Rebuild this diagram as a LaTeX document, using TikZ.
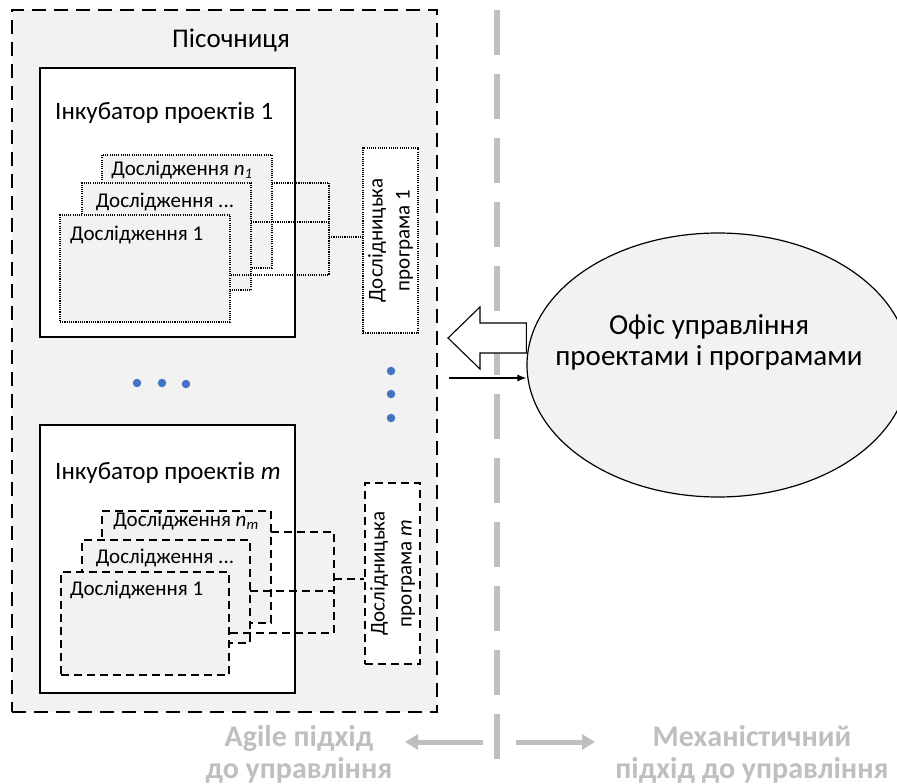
\documentclass[tikz,border=0pt]{standalone}
\usepackage{fontspec}
\setmainfont{Carlito}
\usetikzlibrary{shapes.geometric,arrows.meta,calc}
\definecolor{bggrey}{RGB}{242,242,242}
\definecolor{lightline}{RGB}{191,191,191}
\definecolor{dotblue}{RGB}{68,114,196}
\begin{document}
\begin{tikzpicture}[x=1pt,y=-1pt,
  frame/.style={draw, anchor=north west, inner sep=0pt, outer sep=0pt},
  sandboxbox/.style={frame, fill=bggrey, line width=1.4pt, dash pattern=on 14pt off 8pt},
  incub/.style={frame, fill=white, line width=1.4pt},
  rdot/.style={frame, fill=bggrey, line width=1.1pt, dash pattern=on 1.1pt off 1.1pt},
  rdash/.style={frame, fill=bggrey, line width=1.2pt, dash pattern=on 8pt off 5pt},
  pdot/.style={draw, fill=white, inner sep=0pt, line width=1.1pt, dash pattern=on 1.1pt off 1.1pt},
  pdash/.style={draw, fill=white, inner sep=0pt, line width=1.2pt, dash pattern=on 8pt off 5pt},
  cdot/.style={line width=1.1pt, dash pattern=on 1.1pt off 1.1pt},
  cdash/.style={line width=1.2pt, dash pattern=on 8pt off 5pt},
  rtext/.style={inner sep=0pt, font=\fontsize{21}{24}\selectfont},
  ttext/.style={inner sep=0pt, font=\fontsize{25}{28}\selectfont},
  ptext/.style={rotate=90, align=center, inner sep=0pt, font=\fontsize{21}{27}\selectfont},
  bluedot/.style={circle, fill=dotblue, inner sep=0pt, minimum size=8.5pt},
  greytext/.style={align=center, text=lightline, font=\fontsize{30}{32}\selectfont\bfseries},
  greyarrow/.style={draw=lightline, line width=5pt, -{Triangle[length=13pt,width=15pt]}},
]
\useasboundingbox (0,0) rectangle (897,784);

% vertical divider
\coordinate (divtop) at (497,10);
\coordinate (divbot) at (497,760);
\draw[lightline, line width=6pt, dash pattern=on 45pt off 19pt] (divtop) -- (divbot);

% sandbox
\node[sandboxbox, minimum width=425pt, minimum height=702pt] (sandbox) at (12,10) {};
\node[ttext, font=\fontsize{27}{30}\selectfont] (sandtitle) at (231,40) {Пісочниця};

% incubator 1
\node[incub, minimum width=255pt, minimum height=269pt] (inc1) at (40,68) {};
\node[ttext, anchor=west] (inc1title) at (55,113) {Інкубатор проектів 1};
\node[rdot, minimum width=170pt, minimum height=113pt] (r1n) at (102,155) {};
\node[rdot, minimum width=169pt, minimum height=107pt] (r1d) at (82,183) {};
\node[rdot, minimum width=170pt, minimum height=107pt] (r11) at (60,215) {};
\node[rtext] (t1n) at (182,170) {Дослідження \textit{n}\textsubscript{\textit{1}}};
\node[rtext] (t1d) at (165,202) {Дослідження ...};
\node[rtext, anchor=west] (t11) at (70,235) {Дослідження 1};
\node[pdot, minimum width=55pt, minimum height=185pt] (p1) at (390.5,240.5) {};
\node[ptext] (p1text) at (p1.center) {Дослідницька\\програма 1};
\coordinate (j1top) at (329,183);
\coordinate (j1bot) at (329,275);
\coordinate (j1) at (329,237);
\draw[cdot] (r1n.east |- j1top) -- (j1top) -- (j1bot) -- (r11.east |- j1bot);
\draw[cdot] (r1d.east |- 0,222) -- (j1top |- 0,222);
\draw[cdot] (j1) -- (j1 -| p1.west);

% dots
\node[bluedot] (dh1) at (137,383) {};
\node[bluedot] (dh2) at (162,383) {};
\node[bluedot] (dh3) at (186,384) {};
\node[bluedot] (dv1) at (391,371) {};
\node[bluedot] (dv2) at (391,394) {};
\node[bluedot] (dv3) at (391,418) {};

% incubator m
\node[incub, minimum width=255pt, minimum height=268pt] (incm) at (40,425) {};
\node[ttext, anchor=west] (incmtitle) at (55,473) {Інкубатор проектів \textit{m}};
\node[rdash, minimum width=169pt, minimum height=112pt] (rmn) at (102,511) {};
\node[rdash, minimum width=168pt, minimum height=103pt] (rmd) at (82,540) {};
\node[rdash, minimum width=168pt, minimum height=103pt] (rm1) at (61,572) {};
\node[rtext] (tmn) at (186,521) {Дослідження \textit{n}\textsubscript{\textit{m}}};
\node[rtext] (tmd) at (165,558) {Дослідження ...};
\node[rtext, anchor=west] (tm1) at (70,590) {Дослідження 1};
\node[pdash, minimum width=55pt, minimum height=181pt] (pm) at (392.5,573.5) {};
\node[ptext] (pmtext) at (pm.center) {Дослідницька\\програма \textit{m}};
\coordinate (j2top) at (334,532);
\coordinate (j2bot) at (334,633);
\coordinate (j2) at (334,579);
\draw[cdash] (rmn.east |- j2top) -- (j2top) -- (j2bot) -- (rm1.east |- j2bot);
\draw[cdash] (rmd.east |- 0,591) -- (j2top |- 0,591);
\draw[cdash] (j2) -- (j2 -| pm.west);

% office
\node[draw, ellipse, fill=bggrey, line width=1.2pt, minimum width=382pt, minimum height=264pt] (office) at (718,365) {};
\node[align=center, inner sep=0pt, font=\fontsize{29}{31}\selectfont] (officetext) at (709,342)
      {Офіс управління\\проектами і програмами};

% block arrow from office to sandbox
\draw[fill=white, line width=1.1pt, line join=miter]
  (448,338) -- (480,307) -- (480,323) -- (office.west |- 0,323) -- (office.west |- 0,353)
  -- (480,353) -- (480,369) -- cycle;
% thin arrow into office
\coordinate (inarrow) at (449,378);
\draw[line width=1.1pt, -{Latex[length=9pt,width=7pt]}] (inarrow) -- (inarrow -| office.west);

% bottom arrows and labels
\coordinate (lstart) at (483,742);
\coordinate (lend) at (405,742);
\coordinate (rstart) at (516,742);
\coordinate (rend) at (595,742);
\draw[greyarrow] (lstart) -- (lend);
\draw[greyarrow] (rstart) -- (rend);
\node[greytext] (agile) at (299,754) {Agile підхід\\до управління};
\node[greytext] (mech) at (752,754) {Механістичний\\підхід до управління};
\end{tikzpicture}
\end{document}
